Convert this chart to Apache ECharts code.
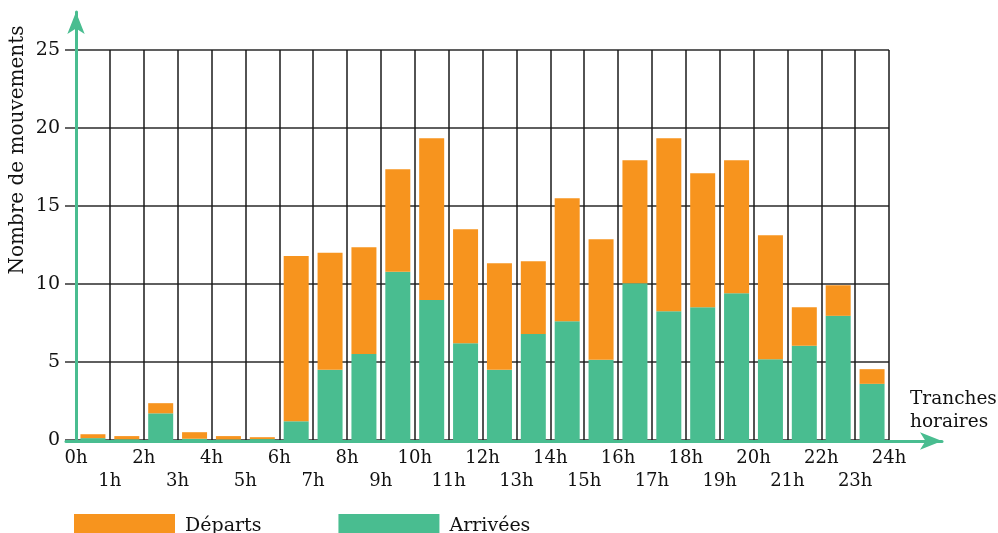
<!DOCTYPE html>
<html>
<head>
<meta charset="utf-8">
<script src="https://cdn.jsdelivr.net/npm/echarts@6/dist/echarts.min.js"></script>
<style>
html,body{margin:0;padding:0;background:#fff;}
#chart{width:998px;height:533px;}
</style>
</head>
<body>
<div id="chart"></div>
<script>
// Hour slots 0h-1h ... 23h-24h
const slots = ['0h','1h','2h','3h','4h','5h','6h','7h','8h','9h','10h','11h','12h','13h','14h','15h','16h','17h','18h','19h','20h','21h','22h','23h'];
// Arrivals (green, bottom of stack)
const arrivees = [0.12,0.05,1.71,0.08,0.04,0.06,1.2,4.5,5.52,10.78,8.98,6.2,4.5,6.8,7.61,5.14,10.05,8.26,8.51,9.41,5.18,6.04,7.96,3.6];
// Departures (orange, stacked on top)
const departs = [0.25,0.2,0.65,0.42,0.21,0.12,10.6,7.5,6.84,6.58,10.37,7.31,6.83,4.66,7.89,7.73,7.89,11.09,8.59,8.53,7.95,2.47,1.96,0.94];
// Tick labels
const yTicks = [0,5,10,15,20,25];
const hourTicks = [0,1,2,3,4,5,6,7,8,9,10,11,12,13,14,15,16,17,18,19,20,21,22,23,24];

const FONT = 'DejaVu Serif';
const GREEN = '#49BD90';
const ORANGE = '#F7941E';
const chart = echarts.init(document.getElementById('chart'), null, {renderer:'canvas'});

chart.setOption({
  animation:false,
  backgroundColor:'#fff',
  grid:[
    {left:76, right:109, top:50, bottom:93},
    {left:66, right:56, top:12, bottom:92}
  ],
  legend:{
    data:['Départs','Arrivées'],
    left:74, top:514, padding:0,
    itemWidth:101, itemHeight:24, itemGap:77,
    icon:'rect',
    textStyle:{fontFamily:FONT, fontSize:19, color:'#111', padding:[0,0,0,5]}
  },
  xAxis:[
    {type:'category', gridIndex:0, data:slots, boundaryGap:true,
     axisLine:{show:false}, axisTick:{show:false}, axisLabel:{show:false}, splitLine:{show:false}},
    {type:'value', gridIndex:0, min:0, max:24, interval:1, position:'bottom',
     axisLine:{show:false}, axisTick:{show:false},
     splitLine:{show:true, lineStyle:{color:'#1a1a1a', width:1.5}},
     axisLabel:{
       margin:9,
       formatter:function(v){ return hourTicks.indexOf(v) < 0 ? '' : (v % 2 === 0 ? '{e|' : '{o|') + v + 'h}'; },
       rich:{
         e:{fontFamily:FONT, fontSize:18, color:'#111'},
         o:{fontFamily:FONT, fontSize:18, color:'#111', padding:[23,0,0,0]}
       }
     }},
    {type:'value', gridIndex:1, min:0, max:1, z:5,
     axisLine:{show:true, symbol:['none','arrow'], symbolSize:[13,22], lineStyle:{color:GREEN, width:3}},
     axisTick:{show:false}, axisLabel:{show:false}, splitLine:{show:false}}
  ],
  yAxis:[
    {type:'value', gridIndex:0, min:0, max:25, interval:5,
     axisLine:{show:false},
     axisTick:{show:true, length:11, lineStyle:{color:'#333', width:1.5}},
     splitLine:{show:true, lineStyle:{color:'#2a2a2a', width:1.5}},
     axisLabel:{margin:16, fontFamily:FONT, fontSize:19, color:'#111',
       formatter:function(v){ return yTicks.indexOf(v) >= 0 ? String(v) : ''; }}},
    {type:'value', gridIndex:1, min:0, max:1, z:5, offset:-10,
     axisLine:{show:true, symbol:['none','arrow'], symbolSize:[13,22], lineStyle:{color:GREEN, width:3}},
     axisTick:{show:false}, axisLabel:{show:false}, splitLine:{show:false}}
  ],
  graphic:[
    {type:'text', x:18, y:150, rotation:Math.PI/2,
     style:{text:'Nombre de mouvements', fontFamily:FONT, fontSize:20, fill:'#111', align:'center', verticalAlign:'middle'}},
    {type:'text', x:910, y:388,
     style:{text:'Tranches\nhoraires', fontFamily:FONT, fontSize:18.5, lineHeight:23, fill:'#111', align:'left', verticalAlign:'top'}}
  ],
  series:[
    {name:'Arrivées', type:'bar', stack:'m', xAxisIndex:0, yAxisIndex:0, barWidth:25,
     itemStyle:{color:GREEN}, data:arrivees},
    {name:'Départs', type:'bar', stack:'m', xAxisIndex:0, yAxisIndex:0, barWidth:25,
     itemStyle:{color:ORANGE}, data:departs}
  ]
});
</script>
</body>
</html>
